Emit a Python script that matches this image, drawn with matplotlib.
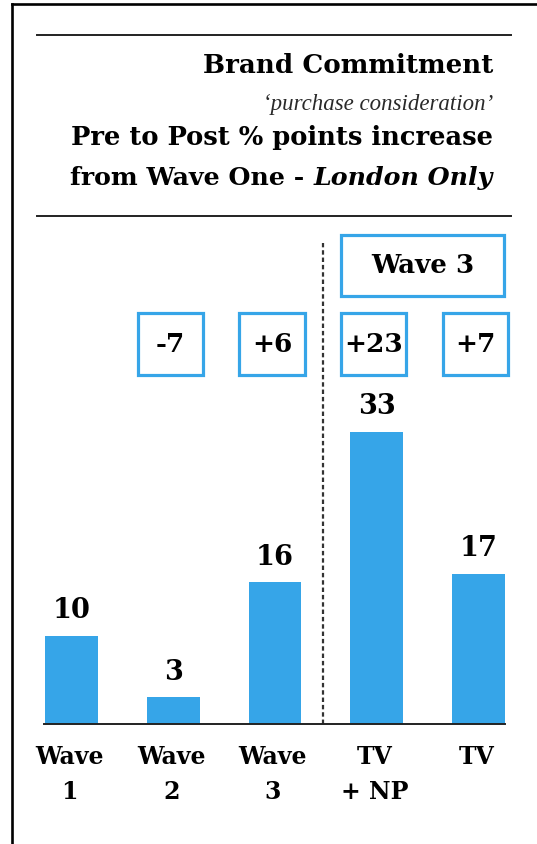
import matplotlib.pyplot as plt
from matplotlib.patches import Rectangle
from matplotlib.lines import Line2D

# purchase consideration (%), London only
categories = ['Wave\n1', 'Wave\n2', 'Wave\n3', 'TV\n+ NP', 'TV']
values = [10, 3, 16, 33, 17]
# pre to post change vs. wave one, shown for every bar after the first
changes = [v - values[0] for v in values[1:]]

BLUE = '#36a5e8'
BOLD = dict(family='DejaVu Serif', weight='bold', color='black')

W, H = 537, 844
fig = plt.figure(figsize=(W / 100, H / 100), dpi=100)
fig.patch.set_facecolor('white')


def fx(px):
    return px / W


def fy(py):
    return 1 - py / H


# outer frame (left and top edges only are visible)
fig.add_artist(Line2D([fx(12), fx(12)], [fy(4), 0], color='black', lw=1.9))
fig.add_artist(Line2D([fx(12), 1], [fy(4), fy(4)], color='black', lw=1.9))

# header rules
for y in (35, 216):
    fig.add_artist(Line2D([fx(37), fx(511)], [fy(y), fy(y)], color='#222222', lw=1.4))

# header text, right aligned
xr = fx(493)
fig.text(xr, fy(73), 'Brand Commitment', ha='right', va='baseline', fontsize=18.8, **BOLD)
fig.text(xr, fy(110), '\u2018purchase consideration\u2019', ha='right', va='baseline',
         fontsize=16.5, family='Liberation Serif', style='italic', color='#2a2a2a')
fig.text(xr, fy(145), 'Pre to Post % points increase', ha='right', va='baseline',
         fontsize=18.5, **BOLD)
london = fig.text(xr, fy(185), 'London Only', ha='right', va='baseline',
                  fontsize=18.2, style='italic', **BOLD)
renderer = fig.canvas.get_renderer()
bb = london.get_window_extent(renderer)
fig.text(bb.x0 / W - 0.002, fy(185), 'from Wave One - ', ha='right', va='baseline',
         fontsize=18.2, **BOLD)

# chart area: value 0 at y=724 px, 8.85 px per point, bars 101.75 px apart
ppu = 8.85
y0, y1 = 724, 230
x0px, x1px = 40, 510
step, c0 = 101.75, 71.5
ax = fig.add_axes([fx(x0px), fy(y0), fx(x1px) - fx(x0px), (y0 - y1) / H])
ax.set_xlim((x0px - c0) / step, (x1px - c0) / step)
ax.set_ylim(0, (y0 - y1) / ppu)
ax.axis('off')

xs = list(range(len(values)))
ax.bar(xs, values, width=0.52, color=BLUE, zorder=2)
ax.plot([-0.27, 4.26], [0, 0], color='#222222', lw=1.4, clip_on=False, zorder=3)

for x, v in zip(xs, values):
    ax.text(x, v + 1.3, str(v), ha='center', va='bottom', fontsize=19.5, **BOLD)

for x, lab in zip(xs, categories):
    ax.text(x - 0.02, -2.4, lab, ha='center', va='top', fontsize=17,
            linespacing=1.55, **BOLD)

# divider between the wave history and the wave 3 split
ax.plot([2.47, 2.47], [0, 54.3], color='#333333', lw=1.6, ls=(0, (2.0, 1.3)), zorder=1)

# change boxes
bw, bh = 0.64, 7.0
for x, c in zip(xs[1:], changes):
    cx = x - 0.03
    ax.add_patch(Rectangle((cx - bw / 2, 39.4), bw, bh, fill=False,
                           edgecolor=BLUE, lw=2.3, clip_on=False))
    ax.text(cx, 39.4 + bh / 2, f'{c:+d}', ha='center', va='center', fontsize=19, **BOLD)

ax.add_patch(Rectangle((2.65, 48.4), 1.6, 6.9, fill=False, edgecolor=BLUE,
                       lw=2.3, clip_on=False))
ax.text(3.45, 48.4 + 3.45, 'Wave 3', ha='center', va='center', fontsize=18.8, **BOLD)

fig.savefig('out.png', dpi=100, facecolor='white')
